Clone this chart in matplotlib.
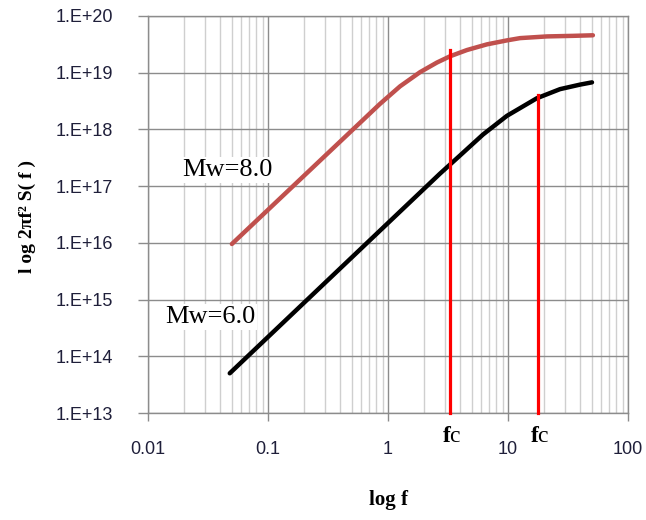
import numpy as np
import matplotlib
matplotlib.use("Agg")
import matplotlib.pyplot as plt
from matplotlib.ticker import LogLocator, NullFormatter, FixedLocator

plt.rcParams["mathtext.fontset"] = "custom"
plt.rcParams["mathtext.rm"] = "Liberation Serif"
plt.rcParams["mathtext.bf"] = "Liberation Serif:bold"

# Data (frequency in Hz, log10 of spectrum)
f_mw8 = [0.05, 0.857, 1.26, 1.85, 2.56, 3.29, 4.55, 6.68, 9.8, 12.6, 21.1, 34.8, 51.0]
logS_mw8 = [15.98, 18.45, 18.76, 19.01, 19.18, 19.29, 19.40, 19.50, 19.57, 19.61,
            19.64, 19.65, 19.66]

f_mw6 = [0.048, 2.71, 3.98, 6.19, 9.8, 17.4, 27.1, 39.8, 50.1]
logS_mw6 = [13.70, 17.22, 17.54, 17.91, 18.24, 18.55, 18.71, 18.79, 18.83]

fc_freqs = [3.3, 17.7]
fc_tops = [19.40, 18.61]

xtick_vals = [0.01, 0.1, 1, 10, 100]
xtick_labels = ["0.01", "0.1", "1", "10", "100"]
ytick_vals = [1e13, 1e14, 1e15, 1e16, 1e17, 1e18, 1e19, 1e20]
ytick_labels = ["1.E+13", "1.E+14", "1.E+15", "1.E+16", "1.E+17", "1.E+18", "1.E+19", "1.E+20"]

fig = plt.figure(figsize=(6.46, 5.2), dpi=100)
ax = fig.add_axes([148/646, 1-413/520, 480/646, 397/520])
ax.set_xscale("log")
ax.set_yscale("log")
ax.set_xlim(0.01, 100)
ax.set_ylim(1e13, 1e20)

major_c = "#8c8c8c"
minor_c = "#cfcfcf"

ax.set_xticks(xtick_vals)
ax.set_xticklabels(xtick_labels)
ax.set_yticks(ytick_vals)
ax.set_yticklabels(ytick_labels)
ax.xaxis.set_minor_locator(LogLocator(base=10, subs=np.arange(2, 10)))
ax.xaxis.set_minor_formatter(NullFormatter())
ax.yaxis.set_minor_locator(FixedLocator([]))

ax.grid(True, which="major", color=major_c, linewidth=1.0)
ax.grid(True, which="minor", axis="x", color=minor_c, linewidth=1.0)
ax.set_axisbelow(True)
for s in ax.spines.values():
    s.set_color(major_c)
    s.set_linewidth(1.0)

ax.tick_params(axis="x", which="major", length=6, width=1, color=major_c, pad=14,
               labelcolor="#1f1f3a")
ax.tick_params(axis="y", which="major", length=7, width=1, color=major_c, pad=18,
               labelcolor="#1f1f3a")
ax.tick_params(which="minor", length=0)
for lbl in ax.get_xticklabels() + ax.get_yticklabels():
    lbl.set_fontfamily("Liberation Sans")
    lbl.set_fontsize(13)

ax.plot(f_mw8, np.power(10.0, logS_mw8), color="#C0504D", linewidth=3.2,
        solid_capstyle="round", solid_joinstyle="round")
ax.plot(f_mw6, np.power(10.0, logS_mw6), color="black", linewidth=3.2,
        solid_capstyle="round", solid_joinstyle="round")

for fcv, top in zip(fc_freqs, fc_tops):
    ax.plot([fcv, fcv], [1e13, 10**top], color="#FF0000", linewidth=2.3, zorder=3,
            clip_on=False)

serif = "Liberation Serif"
bbox = dict(facecolor="white", edgecolor="none", pad=1.5)
ax.text(0.0455, 10**17.28, "Mw=8.0", family=serif, fontsize=19, ha="center", va="center",
        bbox=bbox, zorder=4)
ax.text(0.0329, 10**14.69, "Mw=6.0", family=serif, fontsize=19, ha="center", va="center",
        bbox=bbox, zorder=4)

for fcv in fc_freqs:
    ax.text(fcv * 1.04, 10**12.62, r"$\mathbf{f}\mathrm{c}$", fontsize=17,
            ha="center", va="center", clip_on=False)

fig.text(388/646, 1-500/520, "log f", family=serif, fontsize=15, fontweight="bold",
         ha="center", va="center")
fig.text(27/646, 1-216/520, "l og 2πf² S( f )", family=serif, fontsize=14,
         fontweight="bold", ha="center", va="center", rotation=90)

fig.savefig("out.png", dpi=100, facecolor="white")
